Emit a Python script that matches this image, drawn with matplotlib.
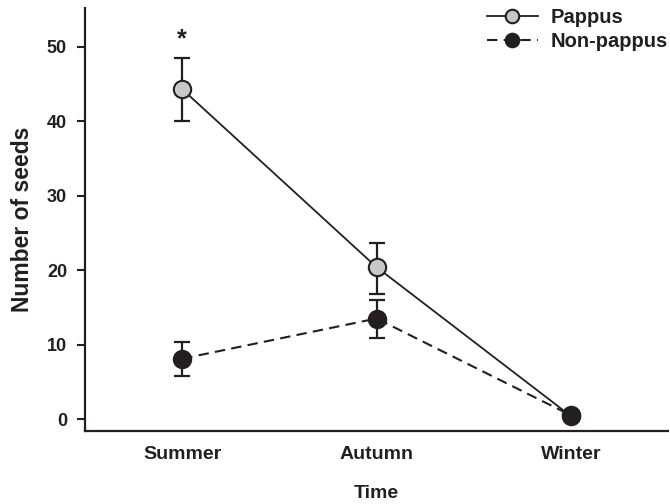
import numpy as np
import matplotlib.pyplot as plt

plt.rcParams['font.family'] = ['Liberation Sans', 'DejaVu Sans']
plt.rcParams['font.weight'] = 'bold'

# data
seasons = ["Summer", "Autumn", "Winter"]
pappus_mean = [44.3, 20.4, 0.4]
pappus_upper = [48.5, 23.7, 0.4]
pappus_lower = [40.0, 16.8, 0.4]
nonpappus_mean = [8.1, 13.5, 0.5]
nonpappus_upper = [10.3, 16.0, 0.5]
nonpappus_lower = [5.8, 10.9, 0.5]
yticks = [0, 10, 20, 30, 40, 50]

ink = '#231f20'
x = np.arange(len(seasons))

fig = plt.figure(figsize=(6.7, 5.04), dpi=100)
ax = fig.add_axes([0.127, 0.145, 0.870, 0.839])

p_err = [np.array(pappus_mean) - np.array(pappus_lower),
         np.array(pappus_upper) - np.array(pappus_mean)]
n_err = [np.array(nonpappus_mean) - np.array(nonpappus_lower),
         np.array(nonpappus_upper) - np.array(nonpappus_mean)]

ax.errorbar(x, nonpappus_mean, yerr=n_err, fmt='none', ecolor=ink,
            elinewidth=1.6, capsize=5.5, capthick=1.6, zorder=2)
ax.errorbar(x, pappus_mean, yerr=p_err, fmt='none', ecolor=ink,
            elinewidth=1.6, capsize=5.5, capthick=1.6, zorder=2)

ax.plot(x, pappus_mean, '-', color=ink, lw=1.3, marker='o', ms=12.5,
        mfc='#c8c8c8', mec=ink, mew=1.5, label='Pappus', zorder=3)
ax.plot(x, nonpappus_mean, '--', color=ink, lw=1.5, dashes=(5, 3),
        marker='o', ms=12.5, mfc=ink, mec=ink, mew=1.5,
        label='Non-pappus', zorder=4)

# significance mark
ax.text(x[0], 51.0, '*', ha='center', va='center', fontsize=18,
        fontweight='bold', color=ink)

ax.set_xlim(-0.5, 2.5)
ax.set_ylim(-1.6, 55.2)
ax.set_xticks(x)
ax.set_xticklabels(seasons)
ax.set_yticks(yticks)
ax.tick_params(axis='x', length=0, pad=11, labelsize=14, colors=ink)
ax.tick_params(axis='y', length=6, width=1.5, pad=7, labelsize=13,
               colors=ink)
for t in ax.get_xticklabels() + ax.get_yticklabels():
    t.set_fontweight('bold')

ax.set_xlabel('Time', fontsize=14, fontweight='bold', color=ink,
              labelpad=16)
ax.set_ylabel('Number of seeds', fontsize=16.5, fontweight='bold',
              color=ink, labelpad=9)

for s in ['top', 'right']:
    ax.spines[s].set_visible(False)
for s in ['left', 'bottom']:
    ax.spines[s].set_linewidth(1.6)
    ax.spines[s].set_color(ink)

leg = ax.legend(loc='upper right', bbox_to_anchor=(1.0, 1.0),
                frameon=False, fontsize=14.5, markerscale=0.78,
                handlelength=2.5, handletextpad=0.65, labelspacing=0.26,
                borderpad=0, borderaxespad=0)
for t in leg.get_texts():
    t.set_fontweight('bold')
    t.set_color(ink)

fig.savefig('out.png', dpi=100)
